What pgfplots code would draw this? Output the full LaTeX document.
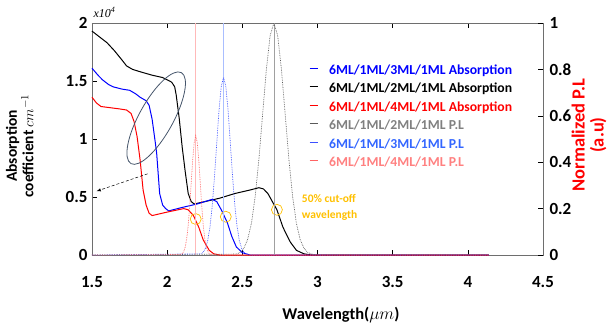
\documentclass[border=0pt]{standalone}
\usepackage{fontspec}
\setmainfont{Carlito}
\newfontfamily\serifit{Liberation Serif}
\usepackage{pgfplots}
\usetikzlibrary{shapes.geometric}
\pgfplotsset{compat=1.18}
\definecolor{absblue}{RGB}{0,0,255}
\definecolor{absred}{RGB}{255,0,0}
\definecolor{plgray}{RGB}{90,90,90}
\definecolor{plgraytext}{RGB}{128,128,128}
\definecolor{plblue}{RGB}{60,80,255}
\definecolor{plbluetext}{RGB}{51,102,255}
\definecolor{plred}{RGB}{255,100,100}
\definecolor{plredtext}{RGB}{255,128,128}
\definecolor{vred}{RGB}{255,185,185}
\definecolor{vblue}{RGB}{170,190,255}
\definecolor{vgray}{RGB}{160,160,160}
\definecolor{cutoff}{RGB}{255,192,0}
\definecolor{ellcol}{RGB}{68,84,106}
\definecolor{axcol}{RGB}{110,110,110}
\begin{document}
\begin{tikzpicture}
\useasboundingbox (-92pt,-75pt) rectangle (516pt,255pt);
\begin{axis}[
  scale only axis, width=451pt, height=232pt,
  xmin=1.5, xmax=4.5, ymin=0, ymax=2,
  xtick={1.5,2,2.5,3,3.5,4,4.5}, ytick={0,0.5,1,1.5,2},
  tick align=inside, major tick length=5pt,
  ytick pos=left,
  axis line style={axcol, line width=0.8pt},
  tick style={black, line width=0.6pt},
  /pgf/number format/assume math mode=true,
  ticklabel style={font=\bfseries\fontsize{17}{17}\selectfont},
  xticklabel style={yshift=-18pt},
  yticklabel style={xshift=-1pt},
  clip=false,
]
\addplot[black, line width=1pt] coordinates {
(1.50,1.93) (1.55,1.88) (1.60,1.83) (1.65,1.76) (1.70,1.68) (1.73,1.63) (1.77,1.60) (1.82,1.58) (1.90,1.55) (1.97,1.53) (2.03,1.49) (2.05,1.45) (2.06,1.38) (2.08,1.18) (2.10,0.93) (2.12,0.72) (2.14,0.53) (2.16,0.46) (2.18,0.44) (2.25,0.46) (2.35,0.49) (2.45,0.53) (2.55,0.56) (2.61,0.58) (2.64,0.57) (2.67,0.53) (2.70,0.46) (2.73,0.39) (2.77,0.24) (2.80,0.16) (2.82,0.11) (2.86,0.04) (2.91,0.01) (2.96,0) (4.14,0)};
\addplot[absblue, line width=1pt] coordinates {
(1.50,1.61) (1.54,1.55) (1.57,1.51) (1.61,1.47) (1.64,1.45) (1.70,1.43) (1.75,1.42) (1.79,1.39) (1.82,1.36) (1.86,1.33) (1.88,1.29) (1.90,1.17) (1.92,0.98) (1.93,0.88) (1.95,0.53) (1.97,0.43) (1.99,0.40) (2.01,0.38) (2.10,0.41) (2.20,0.44) (2.30,0.48) (2.33,0.46) (2.36,0.39) (2.40,0.28) (2.43,0.16) (2.46,0.07) (2.50,0.02) (2.55,0) (4.14,0)};
\addplot[absred, line width=1pt] coordinates {
(1.50,1.36) (1.53,1.31) (1.56,1.28) (1.62,1.27) (1.68,1.26) (1.73,1.25) (1.76,1.22) (1.78,1.15) (1.80,1.02) (1.82,0.82) (1.84,0.56) (1.86,0.43) (1.88,0.36) (1.90,0.34) (2.00,0.37) (2.11,0.40) (2.14,0.39) (2.175,0.34) (2.21,0.24) (2.24,0.13) (2.28,0.04) (2.31,0.01) (2.35,0) (4.14,0)};
\addplot[only marks, mark=o, mark size=5.5pt, cutoff, mark options={line width=0.7pt}] coordinates {(2.19,0.31) (2.39,0.33) (2.73,0.39)};
\node[draw=ellcol, line width=0.8pt, ellipse, minimum width=104pt, minimum height=34pt, inner sep=0pt, rotate=61] at (axis cs:1.927,1.18) {};
\draw[black, densely dashed, line width=0.5pt, -latex] (axis cs:1.87,0.70) -- (axis cs:1.53,0.55);
\node[anchor=west, cutoff, align=left, font=\bfseries\fontsize{11.5}{16}\selectfont] at (axis cs:2.873,0.414) {50\% cut-off\\wavelength};
\node[anchor=base west, font=\serifit\itshape\fontsize{12}{12}\selectfont] at ([xshift=-2pt,yshift=6pt]axis description cs:0,1) {x10\textsuperscript{4}};
\node[rotate=90, align=center, font=\bfseries\fontsize{15.5}{16.5}\selectfont] at (axis description cs:-0.160,0.47) {Absorption\\coefficient $cm^{-1}$};
\node[font=\bfseries\fontsize{16.5}{17}\selectfont] at (axis description cs:0.552,-0.259) {Wavelength($\mu m$)};
\end{axis}
\begin{axis}[
  scale only axis, width=451pt, height=232pt,
  xmin=1.5, xmax=4.5, ymin=0, ymax=1,
  axis x line=none, axis y line*=right,
  ytick={0,0.2,0.4,0.6,0.8,1},
  tick align=inside, major tick length=5pt,
  axis line style={-, axcol, line width=0.8pt},
  tick style={black, line width=0.6pt},
  /pgf/number format/assume math mode=true,
  ticklabel style={font=\bfseries\fontsize{17}{17}\selectfont},
  yticklabel style={xshift=3pt},
  clip=false,
  legend style={at={(axis description cs:0.481,0.823)}, anchor=north west, draw=none, fill=none, inner sep=0pt, row sep=5.5pt, column sep=11pt, nodes={inner xsep=0pt, inner ysep=0pt, text height=10pt, text depth=3pt}, font=\bfseries\fontsize{13.7}{16}\selectfont},
  legend cell align=left,
  legend image code/.code={\draw[#1, solid] (0pt,2.5pt) -- (8pt,2.5pt);},
]
\addlegendimage{absblue, line width=1pt}
\addlegendentry{\textcolor{absblue}{6ML/1ML/3ML/1ML Absorption}}
\addlegendimage{black, line width=1pt}
\addlegendentry{6ML/1ML/2ML/1ML Absorption}
\addlegendimage{absred, line width=1pt}
\addlegendentry{\textcolor{absred}{6ML/1ML/4ML/1ML Absorption}}
\addplot[vred, line width=0.8pt, forget plot] coordinates {(2.187,0) (2.187,1)};
\addplot[vblue, line width=0.8pt, forget plot] coordinates {(2.372,0) (2.372,1)};
\addplot[vgray, line width=0.8pt, forget plot] coordinates {(2.715,0) (2.715,1)};
\addplot[plgray, densely dotted, line width=0.7pt] coordinates {
(1.5,0) (2.46,0.004) (2.485,0.011) (2.51,0.029) (2.535,0.066) (2.56,0.135) (2.585,0.249) (2.61,0.411) (2.635,0.607) (2.66,0.801) (2.685,0.946) (2.71,1.0) (2.735,0.946) (2.76,0.801) (2.785,0.607) (2.81,0.411) (2.835,0.249) (2.86,0.135) (2.885,0.066) (2.91,0.029) (2.935,0.011) (2.96,0.004) (3.0,0) (4.14,0)};
\addlegendentry{\textcolor{plgraytext}{6ML/1ML/2ML/1ML P.L}}
\addplot[plblue, densely dotted, line width=0.7pt] coordinates {
(1.5,0) (2.225,0.005) (2.24,0.012) (2.255,0.029) (2.27,0.063) (2.285,0.122) (2.30,0.214) (2.315,0.339) (2.33,0.484) (2.345,0.625) (2.36,0.728) (2.375,0.766) (2.39,0.728) (2.405,0.625) (2.42,0.484) (2.435,0.339) (2.45,0.214) (2.465,0.122) (2.48,0.063) (2.495,0.029) (2.51,0.012) (2.525,0.005) (2.56,0) (4.14,0)};
\addlegendentry{\textcolor{plbluetext}{6ML/1ML/3ML/1ML P.L}}
\addplot[plred, densely dotted, line width=0.7pt] coordinates {
(1.5,0) (2.09,0.002) (2.10,0.006) (2.11,0.015) (2.12,0.034) (2.13,0.070) (2.14,0.128) (2.15,0.211) (2.16,0.312) (2.17,0.412) (2.18,0.486) (2.19,0.514) (2.20,0.486) (2.21,0.412) (2.22,0.312) (2.23,0.211) (2.24,0.128) (2.25,0.070) (2.26,0.034) (2.27,0.015) (2.28,0.006) (2.29,0.002) (2.32,0) (4.14,0)};
\addlegendentry{\textcolor{plredtext}{6ML/1ML/4ML/1ML P.L}}
\node[rotate=90, align=center, absred, font=\bfseries\fontsize{18.5}{19}\selectfont] at (axis description cs:1.102,0.517) {Normalized P.L\\(a.u)};
\end{axis}
\end{tikzpicture}
\end{document}
